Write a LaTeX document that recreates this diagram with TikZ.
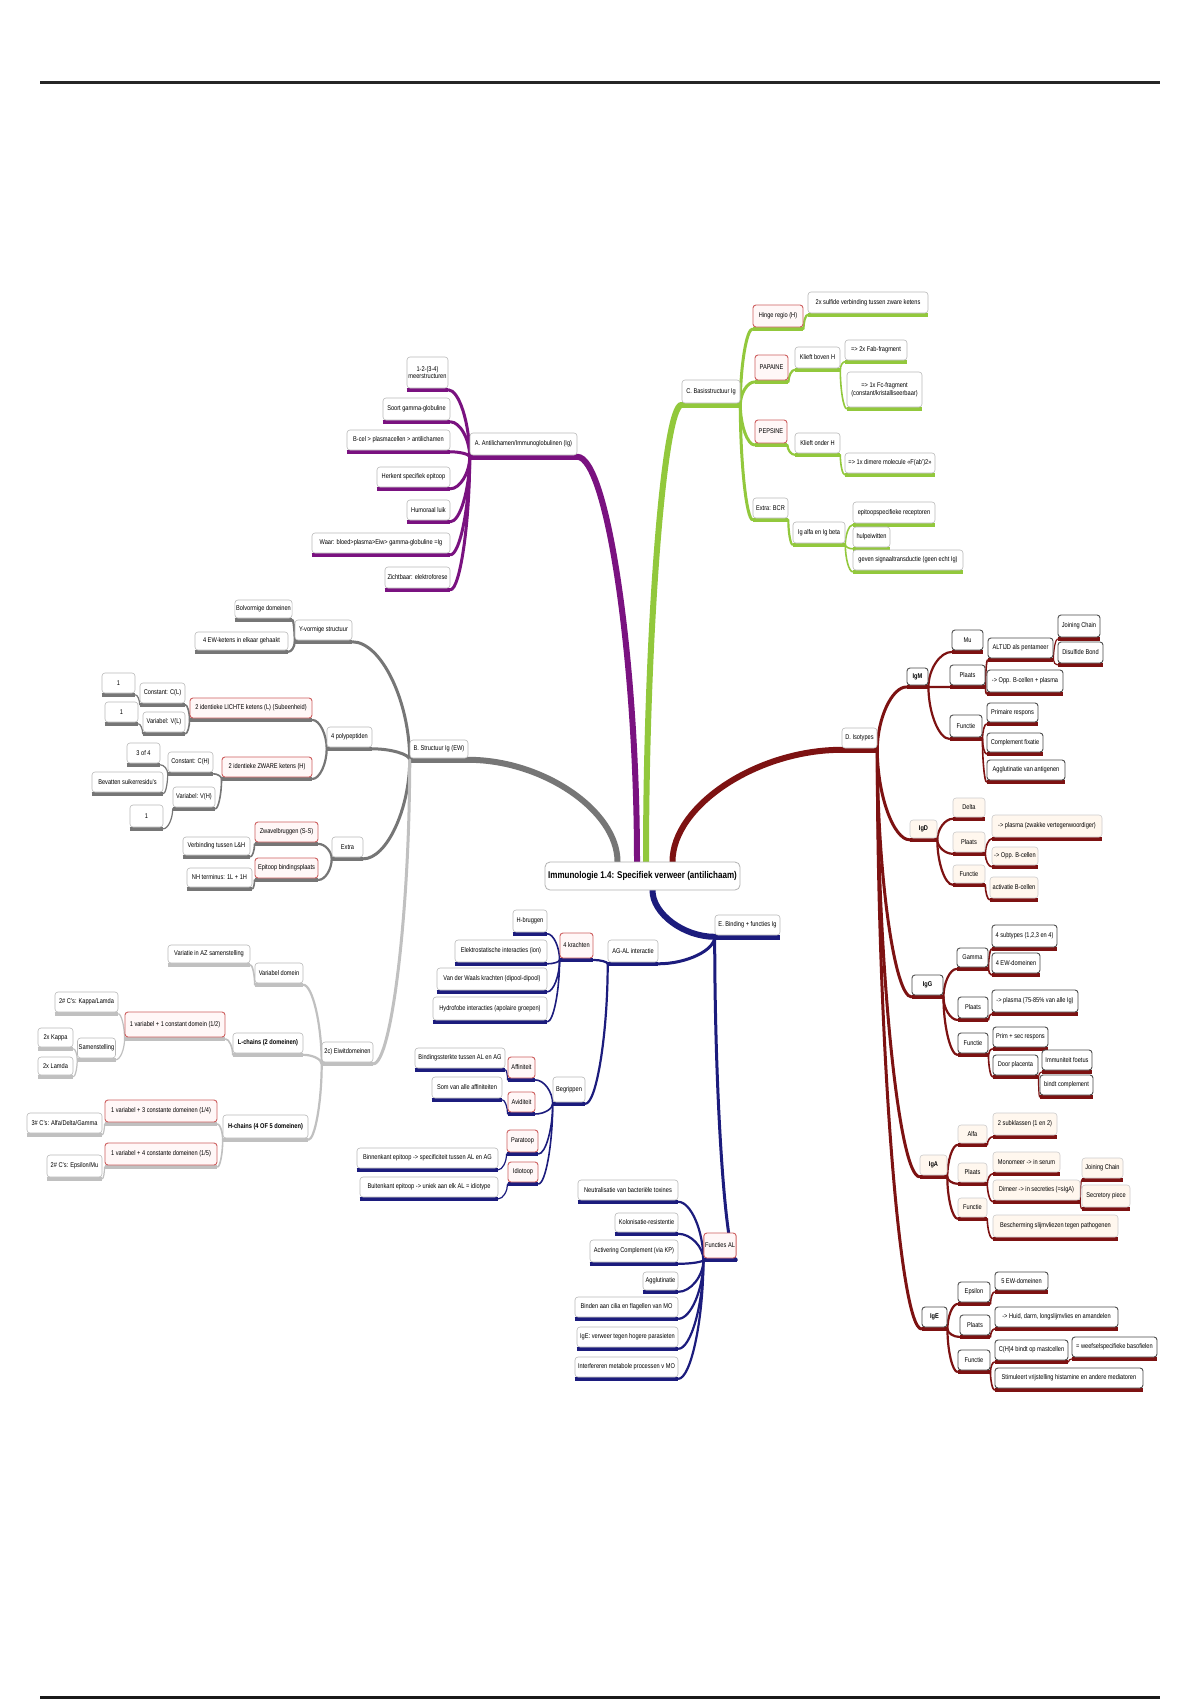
\documentclass[tikz,border=0pt]{standalone}
\usepackage{fontspec}
\setmainfont{Liberation Sans}[FakeStretch=0.82]
\usetikzlibrary{calc}
\pgfdeclarelayer{paper}
\pgfdeclarelayer{bg}
\pgfsetlayers{paper,bg,main}
\definecolor{purp}{RGB}{122,18,128}
\definecolor{grn}{RGB}{146,200,60}
\definecolor{dgrey}{RGB}{118,118,118}
\definecolor{lgrey}{RGB}{192,192,192}
\definecolor{navyb}{RGB}{28,28,125}
\definecolor{dred}{RGB}{125,18,18}
\definecolor{redb}{RGB}{205,95,95}
\definecolor{cream}{RGB}{255,247,238}
\tikzset{
 box/.style={draw=gray!55, fill=white, rounded corners=3pt, line width=0.6pt, inner sep=1.2pt, font=\fontsize{6.9}{7.6}\selectfont, align=center},
 rb/.style={draw=redb, line width=0.9pt, fill=red!3},
 db/.style={draw=black!70, line width=0.9pt},
 cb/.style={fill=cream, draw=gray!40},
 bf/.style={font=\fontsize{6.9}{7.6}\selectfont\bfseries},
 bar/.style={line width=3.6pt, line cap=butt},
 mainbar/.style={line width=5pt},
 l1/.style={line width=6pt, line cap=round},
 l2/.style={line width=3pt, line cap=round},
 l3/.style={line width=2.2pt, line cap=round},
 l4/.style={line width=1.6pt, line cap=round},
 l5/.style={line width=1.2pt, line cap=round},
}
\newcommand\MyBox[8]{%
 \pgfmathsetmacro\bxcx{(#3+#5)/2}%
 \pgfmathsetmacro\bxcy{(#4+#6)/2}%
 \pgfmathsetmacro\bxw{#5-#3}%
 \pgfmathsetmacro\bxh{#6-#4}%
 \node[box,#1,minimum width=\bxw pt,minimum height=\bxh pt] (#2) at (\bxcx,\bxcy) {#8};%
 \begin{pgfonlayer}{bg}\draw[bar,#7] ([yshift=-1.8pt]#2.south west) -- ([yshift=-1.8pt]#2.south east);\end{pgfonlayer}%
}
\newcommand\ConG[3]{%
 \path #1 coordinate (P) #2 coordinate (Q);
 \draw[#3] (P) .. controls ($(P)!0.5!(P|-Q)$) and ($(Q)!0.5!(Q-|P)$) .. (Q);}
\newcommand\ConL[3]{\ConG{([yshift=-1.5pt]#1.south west)}{([yshift=-1.5pt]#2.south east)}{#3}}
\newcommand\ConR[3]{\ConG{([yshift=-1.5pt]#1.south east)}{([yshift=-1.5pt]#2.south west)}{#3}}
\begin{document}
\begin{tikzpicture}[x=1pt,y=-1pt]
\useasboundingbox (0,0) rectangle (1200,1700);
\begin{pgfonlayer}{paper}
\fill[white] (0,0) rectangle (1200,1700);
\end{pgfonlayer}
\draw[line width=3pt, black!85] (40,82) -- (1160,82);
\draw[line width=3pt, black!90] (40,1697) -- (1160,1697);

% root
\node[box, draw=gray!60, line width=0.8pt, rounded corners=5pt, minimum width=195pt, minimum height=28pt, font=\fontsize{9.8}{11}\selectfont\bfseries] (root) at (642.5,876) {Immunologie 1.4: Specifiek verweer (antilichaam)};

% ---------- A (purple)
\MyBox{}{A}{470}{433}{577}{455}{purp,mainbar}{A. Antilichamen/Immunoglobulinen (Ig)}
\MyBox{}{A1}{407}{357}{448}{388}{purp}{1-2-(3-4)\\meerstructuren}
\MyBox{}{A2}{383}{398}{450}{420}{purp}{Soort gamma-globuline}
\MyBox{}{A3}{347}{430}{450}{450}{purp}{B-cel > plasmacellen > antilichamen}
\MyBox{}{A4}{377}{467}{450}{487}{purp}{Herkent specifiek epitoop}
\MyBox{}{A5}{407}{500}{450}{520}{purp}{Humoraal luik}
\MyBox{}{A6}{312}{533}{450}{553}{purp}{Waar: bloed>plasma>Eiw> gamma-globuline =Ig}
\MyBox{}{A7}{385}{567}{450}{588}{purp}{Zichtbaar: elektroforese}

% ---------- C (green)
\MyBox{}{C}{682}{380}{740}{403}{grn,mainbar}{C. Basisstructuur Ig}
\MyBox{rb}{Hr}{753}{305}{803}{327}{grn}{Hinge regio (H)}
\MyBox{}{Hr1}{808}{292}{928}{313}{grn}{2x sulfide verbinding tussen zware ketens}
\MyBox{rb}{Pa}{755}{355}{788}{380}{grn}{PAPAINE}
\MyBox{}{Pa1}{795}{347}{840}{368}{grn}{Klieft boven H}
\MyBox{}{Pa11}{845}{340}{907}{360}{grn}{=> 2x Fab-fragment}
\MyBox{}{Pa12}{847}{372}{922}{407}{grn}{=> 1x Fc-fragment\\(constant/kristalliseerbaar)}
\MyBox{rb}{Pe}{755}{420}{787}{443}{grn}{PEPSINE}
\MyBox{}{Pe1}{795}{433}{840}{453}{grn}{Klieft onder H}
\MyBox{}{Pe11}{845}{453}{935}{473}{grn}{=> 1x dimere molecule «F(ab')2»}
\MyBox{}{Bc}{753}{498}{788}{518}{grn}{Extra: BCR}
\MyBox{}{Bc1}{793}{522}{845}{543}{grn}{Ig alfa en Ig beta}
\MyBox{}{Bc11}{853}{502}{935}{523}{grn}{epitoopspecifieke receptoren}
\MyBox{}{Bc12}{853}{527}{890}{547}{grn}{hulpeiwitten}
\MyBox{}{Bc13}{853}{550}{963}{570}{grn}{geven signaaltransductie (geen echt Ig)}

% ---------- B (grey)
\MyBox{}{B}{410}{740}{468}{758}{dgrey,mainbar}{B. Structuur Ig (EW)}
\MyBox{}{Y}{295}{620}{352}{640}{dgrey}{Y-vormige structuur}
\MyBox{}{Y1}{240}{600}{287}{618}{dgrey}{Bolvormige domeinen}
\MyBox{}{Y2}{195}{632}{288}{650}{dgrey}{4 EW-ketens in elkaar gehaakt}
\MyBox{}{Pol}{327}{727}{372}{747}{dgrey}{4 polypeptiden}
\MyBox{rb}{L}{190}{698}{312}{718}{dgrey}{2 identieke LICHTE ketens (L) (Subeenheid)}
\MyBox{}{CL}{140}{683}{185}{703}{dgrey}{Constant: C(L)}
\MyBox{}{CL1}{102}{673}{135}{693}{dgrey}{1}
\MyBox{}{VL}{143}{712}{185}{732}{dgrey}{Variabel: V(L)}
\MyBox{}{VL1}{105}{702}{138}{722}{dgrey}{1}
\MyBox{rb}{H}{222}{757}{312}{777}{dgrey}{2 identieke ZWARE ketens (H)}
\MyBox{}{CH}{168}{752}{213}{772}{dgrey}{Constant: C(H)}
\MyBox{}{CH1}{127}{743}{160}{763}{dgrey}{3 of 4}
\MyBox{}{CH2}{92}{772}{163}{792}{dgrey}{Bevatten suikerresidu's}
\MyBox{}{VH}{173}{787}{215}{807}{dgrey}{Variabel: V(H)}
\MyBox{}{VH1}{130}{805}{163}{827}{dgrey}{1}
\MyBox{}{Ex}{332}{837}{363}{857}{dgrey}{Extra}
\MyBox{rb}{SS}{255}{822}{318}{842}{dgrey}{Zwavelbruggen (S-S)}
\MyBox{}{SS1}{183}{837}{250}{855}{dgrey}{Verbinding tussen L\&H}
\MyBox{rb}{EP}{255}{858}{318}{878}{dgrey}{Epitoop bindingsplaats}
\MyBox{}{EP1}{187}{868}{252}{887}{dgrey}{NH terminus: 1L + 1H}

% ---------- 2c (light grey)
\MyBox{}{E2c}{322}{1042}{373}{1062}{lgrey}{2c) Eiwitdomeinen}
\MyBox{}{VD}{255}{963}{303}{983}{lgrey}{Variabel domein}
\MyBox{}{VD1}{168}{945}{250}{963}{lgrey}{Variatie in AZ samenstelling}
\MyBox{bf}{LC}{233}{1033}{303}{1053}{lgrey}{L-chains (2 domeinen)}
\MyBox{rb}{LC1}{125}{1012}{225}{1037}{lgrey}{1 variabel + 1 constant domein (1/2)}
\MyBox{}{LC11}{55}{992}{118}{1012}{lgrey}{2\# C's: Kappa/Lamda}
\MyBox{}{LC12}{78}{1038}{115}{1058}{lgrey}{Samenstelling}
\MyBox{}{LC121}{38}{1028}{73}{1047}{lgrey}{2x Kappa}
\MyBox{}{LC122}{38}{1057}{73}{1075}{lgrey}{2x Lamda}
\MyBox{bf}{HC}{223}{1115}{308}{1138}{lgrey}{H-chains (4 OF 5 domeinen)}
\MyBox{rb}{HC1}{105}{1100}{217}{1122}{lgrey}{1 variabel + 3 constante domeinen (1/4)}
\MyBox{}{HC11}{27}{1113}{102}{1133}{lgrey}{3\# C's: Alfa/Delta/Gamma}
\MyBox{rb}{HC2}{105}{1143}{217}{1165}{lgrey}{1 variabel + 4 constante domeinen (1/5)}
\MyBox{}{HC21}{47}{1155}{102}{1177}{lgrey}{2\# C's: Epsilon/Mu}

% ---------- E (navy)
\MyBox{}{E}{715}{915}{780}{935}{navyb,mainbar}{E. Binding + functies Ig}
\MyBox{}{AG}{608}{940}{658}{962}{navyb}{AG-AL interactie}
\MyBox{rb}{K4}{560}{933}{593}{958}{navyb}{4 krachten}
\MyBox{}{K41}{513}{910}{547}{932}{navyb}{H-bruggen}
\MyBox{}{K42}{455}{940}{547}{962}{navyb}{Elektrostatische interacties (ion)}
\MyBox{}{K43}{437}{968}{547}{990}{navyb}{Van der Waals krachten (dipool-dipool)}
\MyBox{}{K44}{433}{997}{547}{1020}{navyb}{Hydrofobe interacties (apolaire groepen)}
\MyBox{}{Beg}{553}{1077}{585}{1102}{navyb}{Begrippen}
\MyBox{rb}{Af}{508}{1057}{535}{1078}{navyb}{Affiniteit}
\MyBox{}{Af1}{415}{1048}{505}{1068}{navyb}{Bindingssterkte tussen AL en AG}
\MyBox{rb}{Av}{508}{1092}{535}{1112}{navyb}{Aviditeit}
\MyBox{}{Av1}{432}{1077}{502}{1098}{navyb}{Som van alle affiniteiten}
\MyBox{rb}{Pt}{507}{1130}{538}{1152}{navyb}{Paratoop}
\MyBox{}{Pt1}{357}{1148}{498}{1168}{navyb}{Binnenkant epitoop -> specificiteit tussen AL en AG}
\MyBox{rb}{Id}{508}{1162}{538}{1182}{navyb}{Idiotoop}
\MyBox{}{Id1}{360}{1177}{498}{1197}{navyb}{Buitenkant epitoop -> uniek aan elk AL = idiotype}
\MyBox{rb}{FA}{705}{1233}{735}{1258}{navyb}{Functies AL}
\MyBox{}{FA1}{578}{1180}{678}{1200}{navyb}{Neutralisatie van bacteriële toxines}
\MyBox{}{FA2}{615}{1213}{678}{1232}{navyb}{Kolonisatie-resistentie}
\MyBox{}{FA3}{590}{1240}{678}{1262}{navyb}{Activering Complement (via KP)}
\MyBox{}{FA4}{643}{1272}{678}{1290}{navyb}{Agglutinatie}
\MyBox{}{FA5}{575}{1297}{678}{1317}{navyb}{Binden aan cilia en flagellen van MO}
\MyBox{}{FA6}{577}{1327}{678}{1347}{navyb}{IgE: verweer tegen hogere parasieten}
\MyBox{}{FA7}{575}{1357}{678}{1377}{navyb}{Interfereren metabole processen v MO}

% ---------- D (dark red)
\MyBox{}{D}{842}{728}{877}{748}{dred,mainbar}{D. Isotypes}
% IgM
\MyBox{db,bf}{IgM}{907}{668}{928}{685}{dred}{IgM}
\MyBox{db}{Mu}{952}{630}{983}{650}{dred}{Mu}
\MyBox{db}{PlM}{950}{665}{985}{685}{dred}{Plaats}
\MyBox{db}{PlM1}{988}{638}{1053}{658}{dred}{ALTIJD als pentameer}
\MyBox{db}{JC}{1058}{615}{1100}{637}{dred}{Joining Chain}
\MyBox{db}{DB}{1058}{642}{1103}{663}{dred}{Disulfide Bond}
\MyBox{db}{PlM2}{987}{670}{1063}{692}{dred}{-> Opp. B-cellen + plasma}
\MyBox{db}{FuM}{950}{715}{982}{737}{dred}{Functie}
\MyBox{db}{FuM1}{987}{703}{1038}{722}{dred}{Primaire respons}
\MyBox{db}{FuM2}{987}{733}{1043}{752}{dred}{Complement fixatie}
\MyBox{db}{FuM3}{987}{760}{1065}{780}{dred}{Agglutinatie van antigenen}
% IgD
\MyBox{cb,bf}{IgD}{910}{820}{937}{838}{dred}{IgD}
\MyBox{cb}{Delta}{953}{798}{985}{817}{dred}{Delta}
\MyBox{cb}{PlD}{953}{832}{985}{852}{dred}{Plaats}
\MyBox{cb}{PlD1}{992}{815}{1102}{837}{dred}{-> plasma (zwakke vertegenwoordiger)}
\MyBox{cb}{PlD2}{992}{847}{1038}{865}{dred}{-> Opp. B-cellen}
\MyBox{cb}{FuD}{953}{865}{985}{883}{dred}{Functie}
\MyBox{cb}{FuD1}{990}{877}{1038}{898}{dred}{activatie B-cellen}
% IgG
\MyBox{db,bf}{IgG}{912}{975}{943}{995}{dred}{IgG}
\MyBox{db}{Gam}{957}{948}{988}{967}{dred}{Gamma}
\MyBox{db}{Gam1}{992}{925}{1057}{947}{dred}{4 subtypes (1,2,3 en 4)}
\MyBox{db}{Gam2}{992}{953}{1040}{973}{dred}{4 EW-domeinen}
\MyBox{db}{PlG}{958}{997}{988}{1018}{dred}{Plaats}
\MyBox{db}{PlG1}{992}{990}{1078}{1012}{dred}{-> plasma (75-85\% van alle Ig)}
\MyBox{db}{FuG}{958}{1033}{988}{1053}{dred}{Functie}
\MyBox{db}{FuG1}{993}{1027}{1048}{1047}{dred}{Prim + sec respons}
\MyBox{db}{FuG2}{993}{1055}{1038}{1075}{dred}{Door placenta}
\MyBox{db}{FuG21}{1042}{1050}{1092}{1070}{dred}{Immuniteit foetus}
\MyBox{db}{FuG22}{1040}{1075}{1093}{1095}{dred}{bindt complement}
% IgA
\MyBox{cb,bf}{IgA}{920}{1155}{947}{1175}{dred}{IgA}
\MyBox{cb}{Alf}{958}{1125}{987}{1143}{dred}{Alfa}
\MyBox{cb}{Alf1}{993}{1113}{1057}{1135}{dred}{2 subklassen (1 en 2)}
\MyBox{cb}{PlA}{958}{1163}{987}{1182}{dred}{Plaats}
\MyBox{cb}{PlA1}{993}{1152}{1060}{1172}{dred}{Monomeer -> in serum}
\MyBox{cb}{PlA2}{993}{1180}{1080}{1200}{dred}{Dimeer -> in secreties (=sIgA)}
\MyBox{cb}{PlA21}{1082}{1158}{1123}{1178}{dred}{Joining Chain}
\MyBox{cb}{PlA22}{1082}{1185}{1130}{1207}{dred}{Secretory piece}
\MyBox{cb}{FuA}{958}{1198}{987}{1217}{dred}{Functie}
\MyBox{cb}{FuA1}{993}{1215}{1118}{1237}{dred}{Bescherming slijmvliezen tegen pathogenen}
% IgE
\MyBox{db,bf}{IgE}{922}{1307}{947}{1327}{dred}{IgE}
\MyBox{db}{Eps}{958}{1282}{990}{1302}{dred}{Epsilon}
\MyBox{db}{Eps1}{995}{1272}{1048}{1290}{dred}{5 EW-domeinen}
\MyBox{db}{PlE}{960}{1315}{990}{1335}{dred}{Plaats}
\MyBox{db}{PlE1}{995}{1307}{1118}{1327}{dred}{-> Huid, darm, longslijmvlies en amandelen}
\MyBox{db}{FuE}{958}{1350}{990}{1370}{dred}{Functie}
\MyBox{db}{FuE1}{995}{1340}{1068}{1360}{dred}{C(H)4 bindt op mastcellen}
\MyBox{db}{FuE11}{1072}{1337}{1157}{1357}{dred}{= weefselspecifieke basofielen}
\MyBox{db}{FuE2}{995}{1368}{1143}{1388}{dred}{Stimuleert vrijstelling histamine en andere mediatoren}

% ---------- connectors
\begin{pgfonlayer}{bg}
\ConG{([xshift=-5.5pt]root.north)}{([yshift=-1.5pt]A.south east)}{purp,l1}
\ConG{([xshift=3.5pt]root.north)}{([yshift=-1.5pt]C.south west)}{grn,l1}
\ConG{([xshift=-25pt]root.north)}{([yshift=-1.5pt]B.south east)}{dgrey,l1}
\ConG{([xshift=30pt]root.north)}{([yshift=-1.5pt]D.south west)}{dred,l1}
\ConG{([xshift=10pt]root.south)}{([yshift=-1.5pt]E.south west)}{navyb,l1}
% A
\ConL{A}{A1}{purp,l2}\ConL{A}{A2}{purp,l2}\ConL{A}{A3}{purp,l2}\ConL{A}{A4}{purp,l2}
\ConL{A}{A5}{purp,l2}\ConL{A}{A6}{purp,l2}\ConL{A}{A7}{purp,l2}
% C
\ConR{C}{Hr}{grn,l2}\ConR{C}{Pa}{grn,l2}\ConR{C}{Pe}{grn,l2}\ConR{C}{Bc}{grn,l2}
\ConR{Hr}{Hr1}{grn,l3}\ConR{Pa}{Pa1}{grn,l3}\ConR{Pa1}{Pa11}{grn,l4}\ConR{Pa1}{Pa12}{grn,l4}
\ConR{Pe}{Pe1}{grn,l3}\ConR{Pe1}{Pe11}{grn,l4}
\ConR{Bc}{Bc1}{grn,l3}\ConR{Bc1}{Bc11}{grn,l4}\ConR{Bc1}{Bc12}{grn,l4}\ConR{Bc1}{Bc13}{grn,l4}
% B
\ConL{B}{Y}{dgrey,l2}\ConL{B}{Pol}{dgrey,l2}\ConL{B}{Ex}{dgrey,l2}\ConL{B}{E2c}{lgrey,l2}
\ConL{Y}{Y1}{dgrey,l3}\ConL{Y}{Y2}{dgrey,l3}
\ConL{Pol}{L}{dgrey,l3}\ConL{Pol}{H}{dgrey,l3}
\ConL{L}{CL}{dgrey,l4}\ConL{L}{VL}{dgrey,l4}\ConL{CL}{CL1}{dgrey,l5}\ConL{VL}{VL1}{dgrey,l5}
\ConL{H}{CH}{dgrey,l4}\ConL{H}{VH}{dgrey,l4}\ConL{CH}{CH1}{dgrey,l5}\ConL{CH}{CH2}{dgrey,l5}\ConL{VH}{VH1}{dgrey,l5}
\ConL{Ex}{SS}{dgrey,l3}\ConL{Ex}{EP}{dgrey,l3}\ConL{SS}{SS1}{dgrey,l4}\ConL{EP}{EP1}{dgrey,l4}
% 2c
\ConL{E2c}{VD}{lgrey,l3}\ConL{E2c}{LC}{lgrey,l3}\ConL{E2c}{HC}{lgrey,l3}
\ConL{VD}{VD1}{lgrey,l4}\ConL{LC}{LC1}{lgrey,l4}\ConL{LC1}{LC11}{lgrey,l5}\ConL{LC1}{LC12}{lgrey,l5}
\ConL{LC12}{LC121}{lgrey,l5}\ConL{LC12}{LC122}{lgrey,l5}
\ConL{HC}{HC1}{lgrey,l4}\ConL{HC}{HC2}{lgrey,l4}\ConL{HC1}{HC11}{lgrey,l5}\ConL{HC2}{HC21}{lgrey,l5}
% E
\ConL{E}{AG}{navyb,l2}\ConL{E}{FA}{navyb,l2}
\ConL{AG}{K4}{navyb,l3}\ConL{AG}{Beg}{navyb,l3}
\ConL{K4}{K41}{navyb,l4}\ConL{K4}{K42}{navyb,l4}\ConL{K4}{K43}{navyb,l4}\ConL{K4}{K44}{navyb,l4}
\ConL{Beg}{Af}{navyb,l4}\ConL{Beg}{Av}{navyb,l4}\ConL{Beg}{Pt}{navyb,l4}\ConL{Beg}{Id}{navyb,l4}
\ConL{Af}{Af1}{navyb,l5}\ConL{Av}{Av1}{navyb,l5}\ConL{Pt}{Pt1}{navyb,l5}\ConL{Id}{Id1}{navyb,l5}
\ConL{FA}{FA1}{navyb,l3}\ConL{FA}{FA2}{navyb,l3}\ConL{FA}{FA3}{navyb,l3}\ConL{FA}{FA4}{navyb,l3}
\ConL{FA}{FA5}{navyb,l3}\ConL{FA}{FA6}{navyb,l3}\ConL{FA}{FA7}{navyb,l3}
% D
\ConR{D}{IgM}{dred,l2}\ConR{D}{IgD}{dred,l2}\ConR{D}{IgG}{dred,l2}\ConR{D}{IgA}{dred,l2}\ConR{D}{IgE}{dred,l2}
\ConR{IgM}{Mu}{dred,l3}\ConR{IgM}{PlM}{dred,l3}\ConR{IgM}{FuM}{dred,l3}
\ConR{PlM}{PlM1}{dred,l4}\ConR{PlM}{PlM2}{dred,l4}\ConR{PlM1}{JC}{dred,l5}\ConR{PlM1}{DB}{dred,l5}
\ConR{FuM}{FuM1}{dred,l4}\ConR{FuM}{FuM2}{dred,l4}\ConR{FuM}{FuM3}{dred,l4}
\ConR{IgD}{Delta}{dred,l3}\ConR{IgD}{PlD}{dred,l3}\ConR{IgD}{FuD}{dred,l3}
\ConR{PlD}{PlD1}{dred,l4}\ConR{PlD}{PlD2}{dred,l4}\ConR{FuD}{FuD1}{dred,l4}
\ConR{IgG}{Gam}{dred,l3}\ConR{IgG}{PlG}{dred,l3}\ConR{IgG}{FuG}{dred,l3}
\ConR{Gam}{Gam1}{dred,l4}\ConR{Gam}{Gam2}{dred,l4}\ConR{PlG}{PlG1}{dred,l4}
\ConR{FuG}{FuG1}{dred,l4}\ConR{FuG}{FuG2}{dred,l4}\ConR{FuG2}{FuG21}{dred,l5}\ConR{FuG2}{FuG22}{dred,l5}
\ConR{IgA}{Alf}{dred,l3}\ConR{IgA}{PlA}{dred,l3}\ConR{IgA}{FuA}{dred,l3}
\ConR{Alf}{Alf1}{dred,l4}\ConR{PlA}{PlA1}{dred,l4}\ConR{PlA}{PlA2}{dred,l4}
\ConR{PlA2}{PlA21}{dred,l5}\ConR{PlA2}{PlA22}{dred,l5}\ConR{FuA}{FuA1}{dred,l4}
\ConR{IgE}{Eps}{dred,l3}\ConR{IgE}{PlE}{dred,l3}\ConR{IgE}{FuE}{dred,l3}
\ConR{Eps}{Eps1}{dred,l4}\ConR{PlE}{PlE1}{dred,l4}\ConR{FuE}{FuE1}{dred,l4}\ConR{FuE}{FuE2}{dred,l4}
\ConR{FuE1}{FuE11}{dred,l5}
\end{pgfonlayer}
\end{tikzpicture}
\end{document}
